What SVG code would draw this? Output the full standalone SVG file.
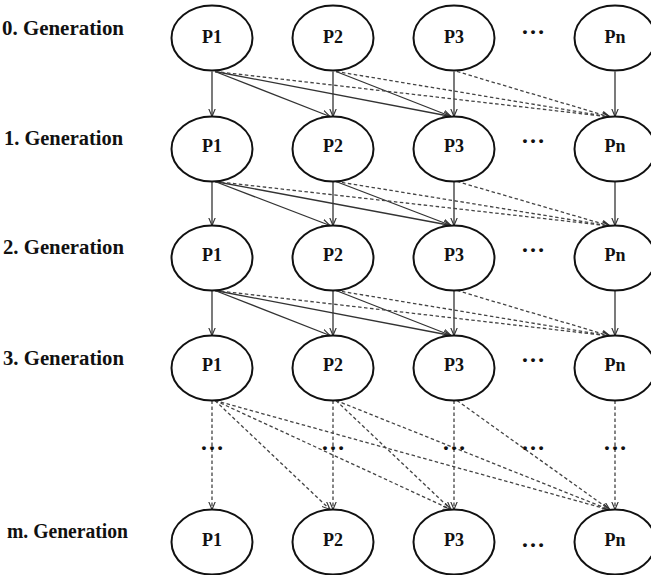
<svg xmlns="http://www.w3.org/2000/svg" width="651" height="575" viewBox="0 0 651 575">
<style>
.node ellipse{fill:#fff;stroke:#111;stroke-width:2}
.node text{font-family:"Liberation Serif","Times New Roman",serif;font-weight:bold;font-size:18px;fill:#111;text-anchor:middle}
.lbl{font-family:"Liberation Serif","Times New Roman",serif;font-weight:bold;font-size:20px;fill:#111}
.dots{font-family:"Liberation Serif","Times New Roman",serif;font-weight:bold;font-size:24px;fill:#111;text-anchor:middle}
.s{stroke:#333;stroke-width:1.3;fill:none;marker-end:url(#ah)}
.d{stroke:#444;stroke-width:1.3;fill:none;stroke-dasharray:3.5 2.5;marker-end:url(#ah)}
</style>
<defs>
<marker id="ah" viewBox="0 0 10 10" refX="10" refY="5" markerWidth="8" markerHeight="8" markerUnits="userSpaceOnUse" orient="auto">
<path d="M0,0.8 L10,5 L0,9.2" fill="none" stroke="#333" stroke-width="1.4"/>
</marker>
</defs>
<rect width="651" height="575" fill="#fff"/>

<g id="labels">
<text class="lbl" x="2" y="35" textLength="122" lengthAdjust="spacingAndGlyphs">0. Generation</text>
<text class="lbl" x="4" y="145" textLength="119" lengthAdjust="spacingAndGlyphs">1. Generation</text>
<text class="lbl" x="3" y="254" textLength="121" lengthAdjust="spacingAndGlyphs">2. Generation</text>
<text class="lbl" x="3" y="365" textLength="121" lengthAdjust="spacingAndGlyphs">3. Generation</text>
<text class="lbl" x="7" y="538" textLength="121" lengthAdjust="spacingAndGlyphs">m. Generation</text>
</g>

<g id="connectors">
<!-- row 0 -> row 1 -->
<path class="s" d="M212,71.5 V116.5"/>
<path class="s" d="M333,71.5 V116.5"/>
<path class="s" d="M454,71.5 V116.5"/>
<path class="s" d="M615,71.5 V116.5"/>
<path class="s" d="M215,71.5 L330,116.5"/>
<path class="s" d="M215,71.5 L451,116.5"/>
<path class="s" d="M336,71.5 L451,116.5"/>
<path class="d" d="M215,71.5 L610,117"/>
<path class="d" d="M336,71.5 L610,117"/>
<path class="d" d="M457,71.5 L610,117"/>
<!-- row 1 -> row 2 -->
<path class="s" d="M212,181.5 V225.5"/>
<path class="s" d="M333,181.5 V225.5"/>
<path class="s" d="M454,181.5 V225.5"/>
<path class="s" d="M615,181.5 V225.5"/>
<path class="s" d="M215,181.5 L330,225.5"/>
<path class="s" d="M215,181.5 L451,225.5"/>
<path class="s" d="M336,181.5 L451,225.5"/>
<path class="d" d="M215,181.5 L610,226"/>
<path class="d" d="M336,181.5 L610,226"/>
<path class="d" d="M457,181.5 L610,226"/>
<!-- row 2 -> row 3 -->
<path class="s" d="M212,290.5 V335.5"/>
<path class="s" d="M333,290.5 V335.5"/>
<path class="s" d="M454,290.5 V335.5"/>
<path class="s" d="M615,290.5 V335.5"/>
<path class="s" d="M215,290.5 L330,335.5"/>
<path class="s" d="M215,290.5 L451,335.5"/>
<path class="s" d="M336,290.5 L451,335.5"/>
<path class="d" d="M215,290.5 L610,336"/>
<path class="d" d="M336,290.5 L610,336"/>
<path class="d" d="M457,290.5 L610,336"/>
<!-- row 3 -> row m -->
<path class="d" d="M212,400.5 V509.5"/>
<path class="d" d="M333,400.5 V509.5"/>
<path class="d" d="M454,400.5 V509.5"/>
<path class="d" d="M615,400.5 V509.5"/>
<path class="d" d="M215,400.5 L330,509.5"/>
<path class="d" d="M215,400.5 L451,509.5"/>
<path class="d" d="M215,400.5 L610,510"/>
<path class="d" d="M336,400.5 L451,509.5"/>
<path class="d" d="M336,400.5 L610,510"/>
<path class="d" d="M457,400.5 L610,510"/>
</g>

<g id="ellipsis-marks">
<text class="dots" x="533" y="34">…</text>
<text class="dots" x="533" y="143">…</text>
<text class="dots" x="533" y="252">…</text>
<text class="dots" x="533" y="362">…</text>
<text class="dots" x="533" y="547">…</text>
<text class="dots" x="212" y="450">…</text>
<text class="dots" x="333" y="450">…</text>
<text class="dots" x="454" y="450">…</text>
<text class="dots" x="533" y="450">…</text>
<text class="dots" x="615" y="450">…</text>
</g>

<g id="g0-p1" class="node"><ellipse cx="212" cy="38" rx="40.5" ry="32.5"/><text x="212" y="43">P1</text></g>
<g id="g0-p2" class="node"><ellipse cx="333" cy="38" rx="40.5" ry="32.5"/><text x="333" y="43">P2</text></g>
<g id="g0-p3" class="node"><ellipse cx="454" cy="38" rx="40.5" ry="32.5"/><text x="454" y="43">P3</text></g>
<g id="g0-pn" class="node"><ellipse cx="615" cy="38" rx="40.5" ry="32.5"/><text x="615" y="43">Pn</text></g>

<g id="g1-p1" class="node"><ellipse cx="212" cy="149" rx="40.5" ry="32.5"/><text x="212" y="152">P1</text></g>
<g id="g1-p2" class="node"><ellipse cx="333" cy="149" rx="40.5" ry="32.5"/><text x="333" y="152">P2</text></g>
<g id="g1-p3" class="node"><ellipse cx="454" cy="149" rx="40.5" ry="32.5"/><text x="454" y="152">P3</text></g>
<g id="g1-pn" class="node"><ellipse cx="615" cy="149" rx="40.5" ry="32.5"/><text x="615" y="152">Pn</text></g>

<g id="g2-p1" class="node"><ellipse cx="212" cy="258" rx="40.5" ry="32.5"/><text x="212" y="261">P1</text></g>
<g id="g2-p2" class="node"><ellipse cx="333" cy="258" rx="40.5" ry="32.5"/><text x="333" y="261">P2</text></g>
<g id="g2-p3" class="node"><ellipse cx="454" cy="258" rx="40.5" ry="32.5"/><text x="454" y="261">P3</text></g>
<g id="g2-pn" class="node"><ellipse cx="615" cy="258" rx="40.5" ry="32.5"/><text x="615" y="261">Pn</text></g>

<g id="g3-p1" class="node"><ellipse cx="212" cy="368" rx="40.5" ry="32.5"/><text x="212" y="371">P1</text></g>
<g id="g3-p2" class="node"><ellipse cx="333" cy="368" rx="40.5" ry="32.5"/><text x="333" y="371">P2</text></g>
<g id="g3-p3" class="node"><ellipse cx="454" cy="368" rx="40.5" ry="32.5"/><text x="454" y="371">P3</text></g>
<g id="g3-pn" class="node"><ellipse cx="615" cy="368" rx="40.5" ry="32.5"/><text x="615" y="371">Pn</text></g>

<g id="gm-p1" class="node"><ellipse cx="212" cy="542" rx="40.5" ry="32.5"/><text x="212" y="546">P1</text></g>
<g id="gm-p2" class="node"><ellipse cx="333" cy="542" rx="40.5" ry="32.5"/><text x="333" y="546">P2</text></g>
<g id="gm-p3" class="node"><ellipse cx="454" cy="542" rx="40.5" ry="32.5"/><text x="454" y="546">P3</text></g>
<g id="gm-pn" class="node"><ellipse cx="615" cy="542" rx="40.5" ry="32.5"/><text x="615" y="546">Pn</text></g>
</svg>
